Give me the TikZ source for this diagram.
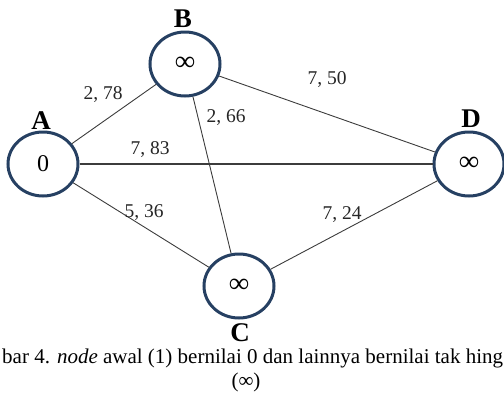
\documentclass[tikz,border=0pt]{standalone}
\usepackage{fontspec}
\setmainfont{Liberation Serif}
\usetikzlibrary{shapes.geometric}
\definecolor{ringblue}{RGB}{38,64,98}
\definecolor{edgegray}{RGB}{60,60,60}
\newcommand{\infsym}{∞}
\begin{document}
\begin{tikzpicture}[x=1pt,y=-1pt,
  vertex/.style={ellipse,draw=ringblue,line width=3pt,minimum width=70pt,minimum height=64pt,inner sep=0pt,font=\fontsize{24}{28}\selectfont},
  vlabel/.style={font=\fontsize{27}{30}\selectfont\bfseries},
  edge/.style={draw=edgegray,line width=0.9pt},
  wlabel/.style={font=\fontsize{19.5}{22}\selectfont,text=black!85,inner sep=0pt},
  caption/.style={font=\fontsize{21}{24}\selectfont,inner sep=0pt}]
\useasboundingbox (0,0) rectangle (504,394);
\node[vertex] (A) at (43,164) {0};
\node[vertex] (B) at (185,64) {\bfseries\fontsize{28}{30}\selectfont\infsym};
\node[vertex] (C) at (239,286) {\bfseries\fontsize{28}{30}\selectfont\infsym};
\node[vertex] (D) at (469,164) {\bfseries\fontsize{28}{30}\selectfont\infsym};
\node[vlabel] (lA) at (41,121) {A};
\node[vlabel] (lB) at (183,19) {B};
\node[vlabel] (lC) at (240,333) {C};
\node[vlabel] (lD) at (471,119) {D};
\draw[edge] (A) -- (B);
\draw[edge,line width=1.6pt] (A) -- (D);
\draw[edge] (A) -- (C);
\draw[edge] (B) -- (D);
\draw[edge] (B) -- (C);
\draw[edge] (C) -- (D);
\node[wlabel] (w1) at (103,95) {2, 78};
\node[wlabel] (w2) at (226,118) {2, 66};
\node[wlabel] (w3) at (150,150) {7, 83};
\node[wlabel] (w4) at (327,80) {7, 50};
\node[wlabel] (w5) at (342,215) {7, 24};
\node[wlabel] (w6) at (144,213) {5, 36};
\node[caption,anchor=west] (cap1) at (2,358) {bar 4. \textit{node} awal (1) bernilai 0 dan lainnya bernilai tak hing};
\node[caption] (cap2) at (246,382) {(\infsym)};
\end{tikzpicture}
\end{document}
